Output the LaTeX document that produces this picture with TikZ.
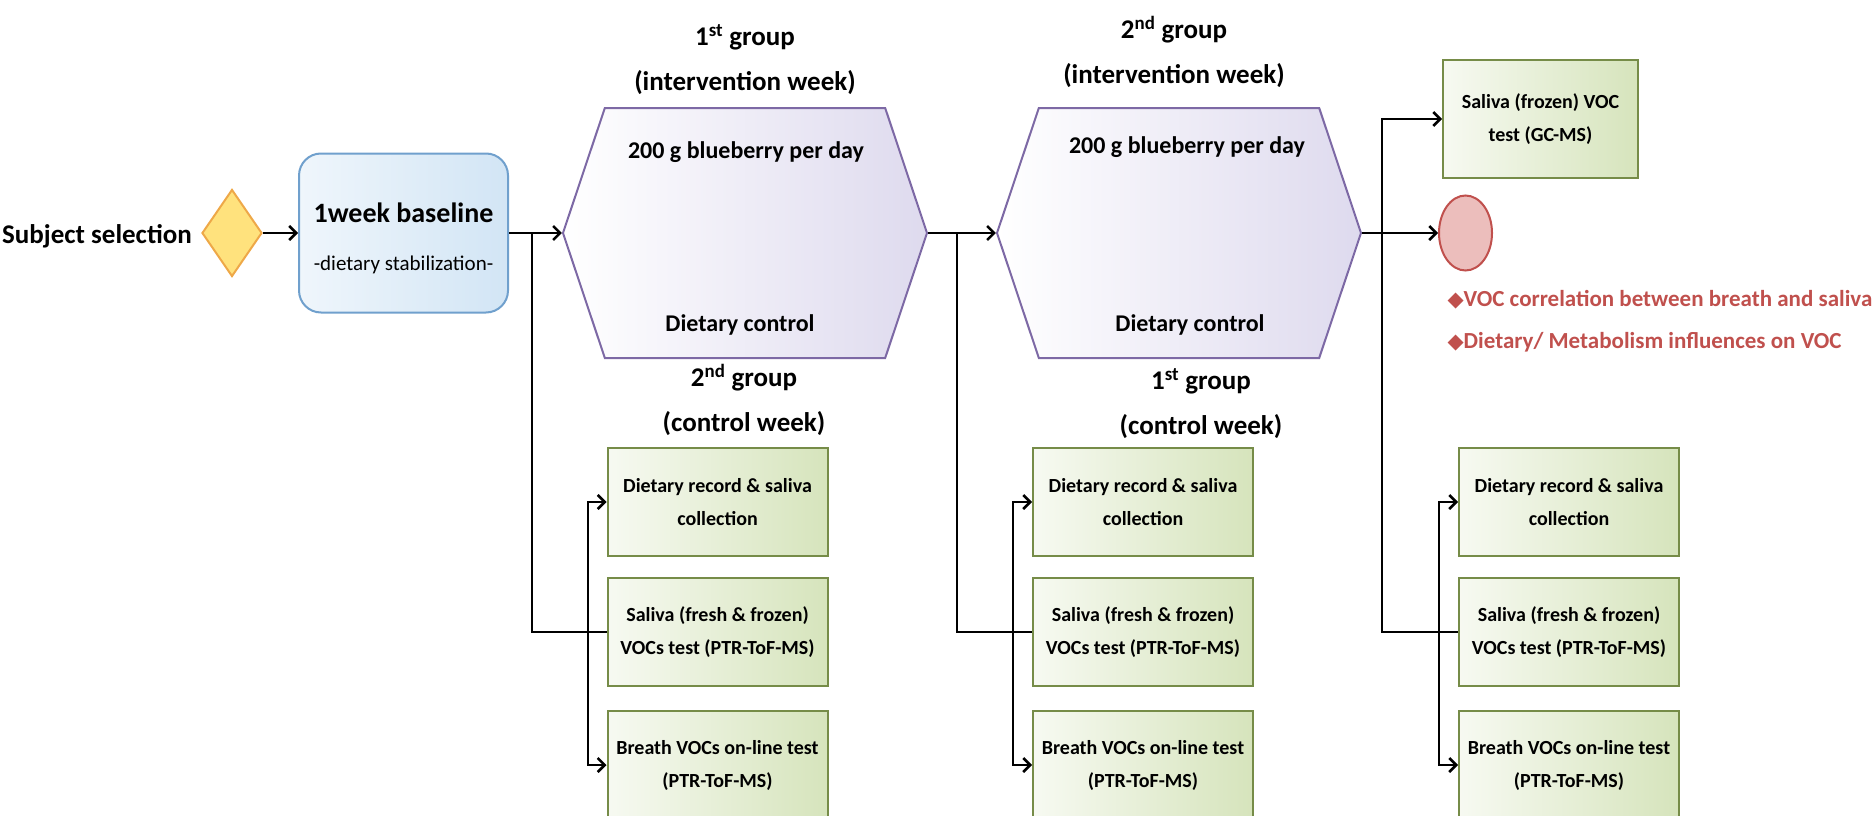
\documentclass[tikz,border=0pt]{standalone}
\usepackage{fontspec}
\setmainfont{Carlito}
\newfontfamily\markfont{DejaVu Sans}
\usepackage{xcolor}
\usepackage{tikz}
\usetikzlibrary{shapes.geometric, shapes.symbols, arrows.meta, positioning, calc}
\definecolor{BaseBlue}{RGB}{112, 160, 205}
\definecolor{BaseFill}{RGB}{210, 229, 245}
\definecolor{HexPurple}{RGB}{125, 105, 165}
\definecolor{HexFill}{RGB}{222, 218, 238}
\definecolor{BoxGreen}{RGB}{118, 140, 72}
\definecolor{BoxFill}{RGB}{214, 228, 188}
\definecolor{StartYellow}{RGB}{255, 226, 125}
\definecolor{StartOrange}{RGB}{238, 168, 72}
\definecolor{ResultRed}{RGB}{192, 80, 77}
\definecolor{ResultFill}{RGB}{236, 190, 188}

\begin{document}
\begin{tikzpicture}[x=1pt, y=-1pt,
    conn/.style={line width=2.5pt, black},
    arr/.style={conn, -{Straight Barb[length=7pt, width=14pt]}},
    stepbox/.style={draw=BoxGreen, line width=2pt, left color=BoxFill!20, right color=BoxFill,
        minimum width=220pt, minimum height=108pt, inner sep=0pt, align=center,
        font=\fontsize{20}{33}\selectfont\bfseries},
    weekhex/.style={signal, signal to=east and west, signal pointer angle=143, draw=HexPurple,
        line width=2pt, left color=white, right color=HexFill,
        minimum width=364pt, minimum height=250pt, inner sep=0pt},
    grouptext/.style={align=center, font=\fontsize{27}{45}\selectfont\bfseries},
    hextext/.style={font=\fontsize{24}{24}\selectfont\bfseries},
    resulttext/.style={anchor=west, text=ResultRed, font=\fontsize{23}{23}\selectfont\bfseries}]
    \useasboundingbox (0,0) rectangle (1876,816);

    % --- Start and baseline (Left) ---
    \node[font=\fontsize{27}{27}\selectfont\bfseries] (subj) at (97,236) {Subject selection};
    \node[diamond, draw=StartOrange, fill=StartYellow, line width=2pt, minimum width=60pt,
        minimum height=87pt, inner sep=0pt] (dia) at (232,233) {};
    \node[draw=BaseBlue, line width=2pt, rounded corners=22pt, left color=BaseFill!35,
        right color=BaseFill, minimum width=209pt, minimum height=159pt, align=center,
        font=\fontsize{21}{44}\selectfont] (base) at (403.5,233)
        {\raisebox{-3pt}[\height][\depth]{\fontsize{28}{44}\selectfont\bfseries 1week baseline}\\
         \raisebox{-7pt}[\height][\depth]{-dietary stabilization-}};
    \draw[arr] (dia.east) -- (base.west);

    % --- First week (Middle left) ---
    \node[grouptext] (lab1) at (745,60) {1\textsuperscript{st} group\\(intervention week)};
    \node[weekhex] (hex1) at (745,233) {};
    \node[hextext] (diet1) at (746,152) {200 g blueberry per day};
    \node[hextext] (ctrl1) at (740,325) {Dietary control};
    \node[grouptext] (lab2) at (744,400) {2\textsuperscript{nd} group\\(control week)};
    \node[stepbox] (c1b1) at (717.5,502) {Dietary record \& saliva\\collection};
    \node[stepbox] (c1b2) at (717.5,632) {Saliva (fresh \& frozen)\\VOCs test (PTR-ToF-MS)};
    \node[stepbox] (c1b3) at (717.5,765) {Breath VOCs on-line test\\(PTR-ToF-MS)};
    \coordinate (s1) at (532,233);
    \coordinate (j1) at (588,632);
    \draw[arr] (base.east) -- (hex1.west);
    \draw[conn] (s1) |- (c1b2.west);
    \draw[arr] (j1) |- (c1b1.west);
    \draw[arr] (j1) |- (c1b3.west);

    % --- Second week (Middle right) ---
    \node[grouptext] (lab3) at (1174,52) {2\textsuperscript{nd} group\\(intervention week)};
    \node[weekhex] (hex2) at (1179,233) {};
    \node[hextext] (diet2) at (1187,147) {200 g blueberry per day};
    \node[hextext] (ctrl2) at (1190,325) {Dietary control};
    \node[grouptext] (lab4) at (1201,404) {1\textsuperscript{st} group\\(control week)};
    \node[stepbox] (c2b1) at (1143,502) {Dietary record \& saliva\\collection};
    \node[stepbox] (c2b2) at (1143,632) {Saliva (fresh \& frozen)\\VOCs test (PTR-ToF-MS)};
    \node[stepbox] (c2b3) at (1143,765) {Breath VOCs on-line test\\(PTR-ToF-MS)};
    \coordinate (s2) at (957,233);
    \coordinate (j2) at (1013,632);
    \draw[arr] (hex1.east) -- (hex2.west);
    \draw[conn] (s2) |- (c2b2.west);
    \draw[arr] (j2) |- (c2b1.west);
    \draw[arr] (j2) |- (c2b3.west);

    % --- Analysis (Right) ---
    \node[stepbox, minimum width=195pt, minimum height=118pt] (gcms) at (1540.5,119)
        {Saliva (frozen) VOC\\test (GC-MS)};
    \node[ellipse, draw=ResultRed, fill=ResultFill, line width=2pt, minimum width=53pt,
        minimum height=75pt, inner sep=0pt] (res) at (1465.5,233) {};
    \node[resulttext] (find1) at (1444,300)
        {{\markfont\fontsize{21}{21}\selectfont ◆}VOC correlation between breath and saliva};
    \node[resulttext] (find2) at (1444,342)
        {{\markfont\fontsize{21}{21}\selectfont ◆}Dietary/ Metabolism influences on VOC};
    \node[stepbox] (c3b1) at (1569,502) {Dietary record \& saliva\\collection};
    \node[stepbox] (c3b2) at (1569,632) {Saliva (fresh \& frozen)\\VOCs test (PTR-ToF-MS)};
    \node[stepbox] (c3b3) at (1569,765) {Breath VOCs on-line test\\(PTR-ToF-MS)};
    \coordinate (s3) at (1382,233);
    \coordinate (j3) at (1439,632);
    \draw[arr] (hex2.east) -- (res.west);
    \draw[arr] (s3) |- (gcms.west);
    \draw[conn] (s3) |- (c3b2.west);
    \draw[arr] (j3) |- (c3b1.west);
    \draw[arr] (j3) |- (c3b3.west);
\end{tikzpicture}
\end{document}
